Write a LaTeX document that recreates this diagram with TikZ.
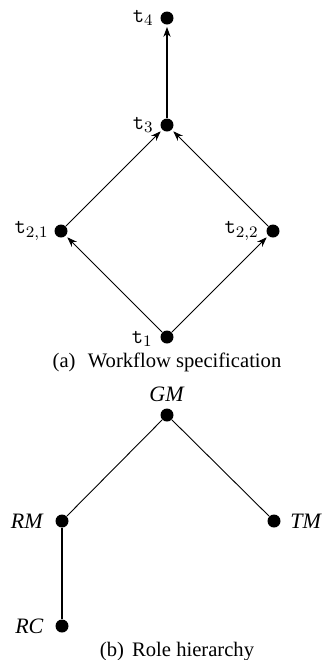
\documentclass[tikz,border=0pt]{standalone}
\usepackage{fontspec}
\setmainfont{Liberation Serif}
\usetikzlibrary{arrows.meta}
\begin{document}
\begin{tikzpicture}[x=0.5pt,y=-0.5pt,
  vtx/.style={circle,fill=black,inner sep=0pt,minimum size=6.5pt},
  lbl/.style={font=\fontsize{11}{13}\selectfont,inner sep=0pt},
  captxt/.style={font=\fontsize{10.3}{12}\selectfont,inner sep=0pt},
  thinarr/.style={line width=0.45pt,-{Stealth[length=5pt,width=3.6pt]},shorten >=1pt},
  thickarr/.style={line width=0.9pt,-{Stealth[length=5pt,width=3.6pt]},shorten >=1pt},
  thinln/.style={line width=0.45pt},
  thickln/.style={line width=0.9pt}]
\useasboundingbox (0,0) rectangle (328,660);
% (a)
\node[vtx] (t4) at (167,18) {};
\node[vtx] (t3) at (167,125) {};
\node[vtx] (t21) at (61,231) {};
\node[vtx] (t22) at (273,231) {};
\node[vtx] (t1) at (167,337) {};
\node[lbl,anchor=east] (lt4) at (154,18) {$\texttt{t}_4$};
\node[lbl,anchor=east] (lt3) at (154,125) {$\texttt{t}_3$};
\node[lbl,anchor=east] (lt21) at (49,231) {$\texttt{t}_{2,1}$};
\node[lbl,anchor=east] (lt22) at (259,231) {$\texttt{t}_{2,2}$};
\node[lbl,anchor=east] (lt1) at (153,339) {$\texttt{t}_1$};
\draw[thickarr] (t3) -- (t4);
\draw[thinarr] (t21) -- (t3);
\draw[thinarr] (t22) -- (t3);
\draw[thinarr] (t1) -- (t21);
\draw[thinarr] (t1) -- (t22);
\node[captxt] (capa) at (167,362) {(a)\hspace{0.6em}Workflow specification};
% (b)
\node[vtx] (gm) at (167,415) {};
\node[vtx] (rm) at (62,521) {};
\node[vtx] (tm) at (274,521) {};
\node[vtx] (rc) at (62,626) {};
\node[lbl] (lgm) at (167,394) {\textit{GM}};
\node[lbl,anchor=east] (lrm) at (44,521) {\textit{RM}};
\node[lbl,anchor=west] (ltm) at (290,521) {\textit{TM}};
\node[lbl,anchor=east] (lrc) at (44,626) {\textit{RC}};
\draw[thinln] (gm) -- (rm);
\draw[thinln] (gm) -- (tm);
\draw[thickln] (rm) -- (rc);
\node[captxt] (capb) at (177,652) {(b)\hspace{0.4em}Role hierarchy};
\end{tikzpicture}
\end{document}
